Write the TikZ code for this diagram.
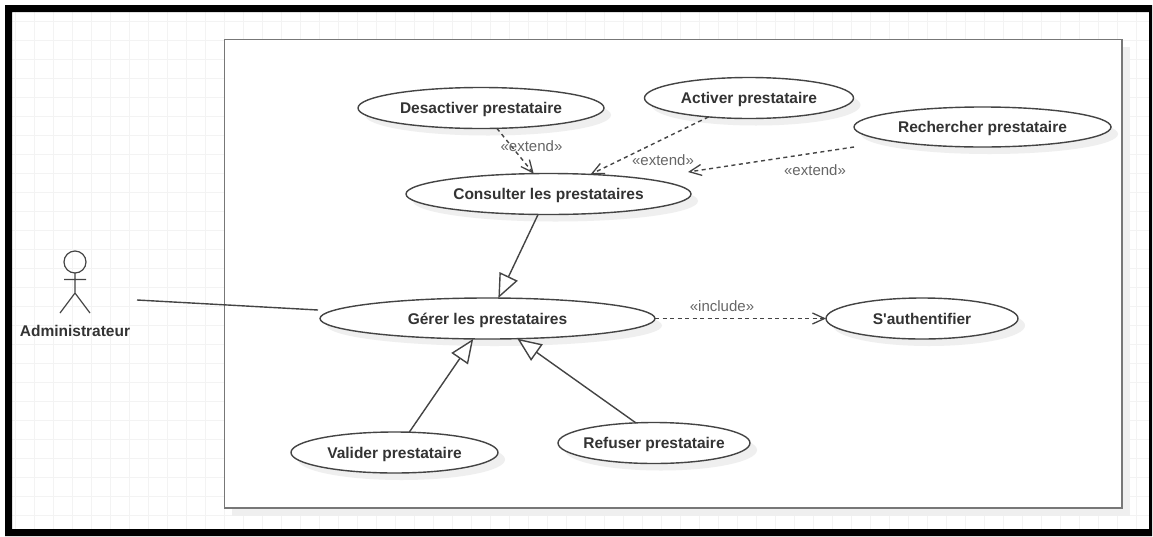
\documentclass[tikz,border=0pt]{standalone}
\usepackage{fontspec}
\setmainfont{Liberation Sans}
\usetikzlibrary{shapes.geometric,arrows.meta,shadows}
\definecolor{gridc}{HTML}{F3F3F3}
\definecolor{shadowc}{HTML}{EFEFEF}
\definecolor{linec}{HTML}{444444}
\definecolor{rectc}{HTML}{777777}
\definecolor{textc}{HTML}{333333}
\definecolor{labelc}{HTML}{666666}
\newcommand{\uctext}[1]{\raisebox{-5.5pt}[0pt][0pt]{\makebox[0pt]{#1}}}
\tikzset{
  usecase/.style={ellipse,draw=linec,line width=1.4pt,fill=white,inner sep=0pt,outer sep=0pt,
    text=textc,font=\fontsize{15.5}{18}\selectfont\bfseries,
    drop shadow={shadow xshift=7pt,shadow yshift=-7pt,fill=shadowc,opacity=1}},
  stereo/.style={text=labelc,font=\fontsize{15}{18}\selectfont,inner sep=0pt},
  actorlabel/.style={text=textc,font=\fontsize{15.5}{18}\selectfont\bfseries,inner sep=0pt},
  dep/.style={draw=linec,line width=1.4pt,dash pattern=on 4pt off 3.5pt,-{Straight Barb[length=12pt,width=11pt,line width=1.3pt]}},
  gen/.style={draw=linec,line width=1.4pt,-{Triangle[open,length=24pt,width=20pt,fill=white,line width=1.4pt]}},
  assoc/.style={draw=linec,line width=1.4pt},
  actorline/.style={draw=linec,line width=1.2pt}
}
\begin{document}
\begin{tikzpicture}[x=1pt,y=-1pt]
\useasboundingbox (0,0) rectangle (1153,536);
% grid
\begin{scope}[gridc,line width=1pt]
\foreach \gx in {15.3,34.3,...,1150}{\draw (\gx,12) -- (\gx,529);}
\foreach \gy in {21.7,40.7,...,530}{\draw (12,\gy) -- (1149,\gy);}
\end{scope}
% frame
\fill[black,even odd rule] (5,5) rectangle (1152,536) (12,12) rectangle (1149,529);
% system boundary
\fill[shadowc] (232,47) rectangle (1130,516);
\draw[rectc,line width=1.6pt,fill=white] (224.5,39.5) rectangle (1122,508);
% use cases
\node[usecase,minimum width=246pt,minimum height=41pt] (desact) at (481,108) {\uctext{Desactiver prestataire}};
\node[usecase,minimum width=209pt,minimum height=41pt] (activ) at (749,98) {\uctext{Activer prestataire}};
\node[usecase,minimum width=257pt,minimum height=40pt] (rech) at (982.5,127) {\uctext{Rechercher prestataire}};
\node[usecase,minimum width=285pt,minimum height=41pt] (cons) at (548.5,194) {\uctext{Consulter les prestataires}};
\node[usecase,minimum width=335pt,minimum height=41pt] (gerer) at (487.5,318.5) {\uctext{Gérer les prestataires}};
\node[usecase,minimum width=192pt,minimum height=41pt] (auth) at (922,318.5) {\uctext{S\textquotesingle authentifier}};
\node[usecase,minimum width=207pt,minimum height=41pt] (valid) at (394.5,452.5) {\uctext{Valider prestataire}};
\node[usecase,minimum width=192pt,minimum height=41pt] (refus) at (654,443) {\uctext{Refuser prestataire}};
% actor
\node[circle,draw=linec,line width=1.2pt,minimum size=22pt,inner sep=0pt,outer sep=0pt] (head) at (75,262) {};
\coordinate (hip) at (75,293);
\coordinate (armL) at (64,279.5);
\coordinate (armR) at (86,279.5);
\coordinate (legL) at (60,313);
\coordinate (legR) at (90,313);
\draw[actorline] (head.south) -- (hip) (armL) -- (armR) (legL) -- (hip) -- (legR);
\node[actorlabel] (admin) at (75,330.5) {Administrateur};
% association
\coordinate (assocA) at (137,300);
\coordinate (assocB) at (318,310);
\draw[assoc] (assocA) -- (assocB);
% connectors
\draw[dep] (desact.-52.7) -- (cons.126.9);
\draw[dep] (activ.-155.5) -- (cons.25.3);
\coordinate (rechEnd) at (854,147);
\coordinate (consEnd) at (688,172);
\draw[dep] (rechEnd) -- (consEnd);
\draw[dep] (gerer.east) -- (auth.west);
\draw[gen] (cons.-117) -- (gerer.62);
\draw[gen] (valid.54.5) -- (gerer.-125.5);
\draw[gen] (refus.132.8) -- (gerer.-34.5);
% labels
\node[stereo] (l1) at (531.5,146) {«extend»};
\node[stereo] (l2) at (663,160) {«extend»};
\node[stereo] (l3) at (815,170) {«extend»};
\node[stereo] (l4) at (722,306) {«include»};
\end{tikzpicture}
\end{document}
